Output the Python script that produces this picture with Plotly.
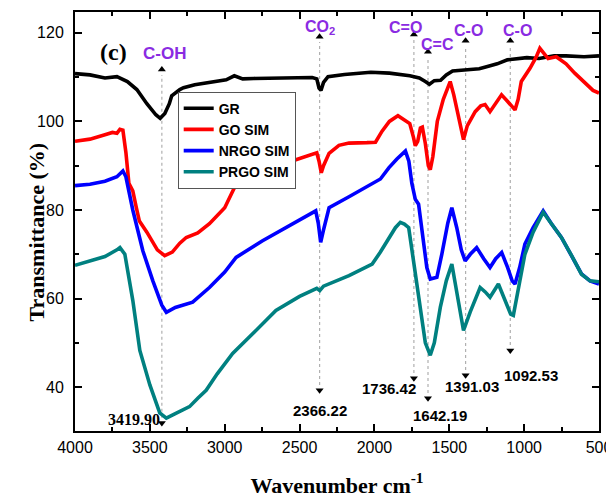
import plotly.graph_objects as go

# ---------------- data ----------------
gr_wn = [4000, 3900, 3800, 3720, 3650, 3587, 3520, 3460, 3431, 3400, 3370, 3354, 3300, 3275, 3200, 3068, 2990, 2936, 2880, 2806, 2600, 2416, 2385, 2370, 2357, 2340, 2310, 2200, 2024, 1900, 1764, 1700, 1660, 1633, 1600, 1558, 1520, 1478, 1400, 1300, 1245, 1180, 1112, 1050, 982, 900, 800, 720, 600, 500]
gr_t = [110.8, 110.5, 109.8, 110.1, 109.0, 107.2, 104.0, 101.5, 100.7, 101.8, 104.0, 105.8, 107.2, 107.6, 108.3, 109.1, 109.4, 110.3, 109.6, 109.7, 109.8, 109.9, 109.6, 107.5, 107.0, 108.8, 110.1, 110.6, 111.1, 110.9, 110.3, 109.8, 109.0, 108.4, 109.2, 109.3, 110.5, 111.4, 111.6, 111.9, 112.4, 113.0, 113.9, 114.2, 114.4, 114.2, 114.8, 114.8, 114.6, 114.8]

go_wn = [4000, 3900, 3800, 3750, 3720, 3700, 3680, 3660, 3640, 3614, 3590, 3570, 3520, 3450, 3401, 3350, 3300, 3257, 3180, 3102, 3000, 2924, 2850, 2749, 2600, 2450, 2385, 2370, 2355, 2340, 2303, 2237, 2170, 2050, 1993, 1949, 1900, 1843, 1804, 1764, 1740, 1727, 1711, 1693, 1680, 1660, 1640, 1627, 1610, 1580, 1540, 1510, 1494, 1470, 1440, 1405, 1380, 1327, 1290, 1261, 1228, 1190, 1151, 1110, 1061, 1040, 1019, 961, 920, 895, 870, 840, 786, 720, 662, 600, 540, 500]
go_t = [95.5, 96.0, 97.0, 97.5, 97.3, 98.2, 98.0, 93.0, 86.0, 84.3, 80.5, 77.5, 75.0, 71.0, 69.7, 70.5, 72.5, 73.8, 74.8, 76.9, 80.5, 85.8, 87.5, 88.8, 90.5, 92.2, 92.9, 91.0, 88.4, 90.0, 92.8, 94.6, 95.1, 95.2, 95.3, 97.8, 100.0, 101.3, 100.5, 99.5, 96.5, 94.5, 95.5, 98.5, 98.7, 95.0, 90.0, 89.1, 92.0, 100.0, 105.0, 108.0, 109.0, 106.0, 101.0, 95.9, 99.0, 102.2, 103.5, 103.8, 102.2, 104.0, 106.0, 104.5, 102.6, 105.0, 109.0, 112.0, 114.5, 116.5, 115.5, 114.2, 114.6, 113.0, 110.9, 109.0, 107.0, 106.4]

nr_wn = [4000, 3900, 3800, 3720, 3680, 3660, 3614, 3580, 3547, 3480, 3420, 3390, 3330, 3214, 3150, 3102, 3000, 2924, 2750, 2570, 2450, 2392, 2375, 2359, 2340, 2303, 2170, 2037, 1960, 1904, 1850, 1793, 1770, 1750, 1727, 1705, 1680, 1650, 1627, 1583, 1550, 1510, 1483, 1450, 1420, 1394, 1360, 1317, 1270, 1228, 1190, 1150, 1110, 1080, 1061, 1030, 995, 940, 873, 820, 751, 680, 617, 560, 500]
nr_t = [85.5, 85.8, 86.5, 87.5, 88.8, 87.5, 80.0, 75.0, 70.8, 64.0, 58.5, 56.9, 58.0, 59.2, 61.0, 62.5, 66.0, 69.3, 73.0, 76.4, 78.7, 79.8, 77.0, 72.7, 75.5, 80.5, 83.0, 85.4, 87.0, 89.5, 91.5, 93.3, 91.0, 86.0, 82.4, 81.3, 75.0, 67.0, 64.4, 64.8, 70.0, 77.0, 80.5, 76.0, 71.0, 68.5, 70.0, 71.5, 69.0, 67.0, 69.0, 70.4, 67.0, 64.0, 63.3, 67.0, 72.3, 76.0, 79.8, 77.0, 73.8, 69.5, 65.6, 64.0, 63.3]

pr_wn = [4000, 3900, 3800, 3720, 3700, 3667, 3640, 3614, 3567, 3500, 3434, 3390, 3330, 3235, 3180, 3124, 3050, 2947, 2800, 2658, 2500, 2385, 2365, 2340, 2170, 2015, 1960, 1904, 1860, 1827, 1800, 1771, 1745, 1727, 1716, 1690, 1660, 1627, 1600, 1560, 1520, 1483, 1450, 1420, 1405, 1360, 1294, 1260, 1228, 1172, 1130, 1090, 1072, 1040, 995, 940, 873, 820, 751, 680, 617, 560, 500]
pr_t = [67.5, 68.5, 69.5, 71.0, 71.5, 70.0, 65.0, 59.6, 48.3, 40.5, 34.2, 33.0, 34.0, 35.6, 37.5, 39.3, 43.0, 47.6, 52.5, 57.3, 60.5, 62.3, 61.8, 62.8, 65.2, 67.8, 70.5, 73.8, 76.0, 77.2, 76.8, 76.0, 70.0, 64.8, 63.4, 57.0, 50.0, 47.2, 50.0, 58.0, 64.0, 67.8, 61.0, 55.0, 52.8, 57.0, 62.5, 61.5, 60.3, 63.3, 60.0, 56.5, 56.2, 62.0, 70.0, 75.0, 79.5, 77.0, 73.8, 69.5, 65.5, 64.0, 63.8]

series_names = ["GR", "GO SIM", "NRGO SIM", "PRGO SIM"]
series_colors = ["#000000", "#ff0000", "#0000ff", "#008080"]

# peak markers (wavenumber, label)
peak_wn = [3419.90, 2366.22, 1736.42, 1642.19, 1391.03, 1092.53]
peak_labels = ["3419.90", "2366.22", "1736.42", "1642.19", "1391.03", "1092.53"]
group_labels = ["C-OH", "CO<sub>2</sub>", "C=O", "C=C", "C-O", "C-O"]

x_ticks = [4000, 3500, 3000, 2500, 2000, 1500, 1000, 500]
y_ticks = [40, 60, 80, 100, 120]

# ---------------- annotation placement (data units) ----------------
top_tri_y = [111.7, 119.1, 119.6, 115.7, 118.2, 118.2]
bot_tri_y = [31.9, 39.3, 42.0, 37.5, 42.7, 48.3]
top_lab = [(3405, 115.4), (2363, 121.2), (1795, 121.3), (1578, 117.4), (1372, 120.6), (1043, 120.6)]
bot_lab = [(3605, 32.6), (2366, 34.8), (1905, 39.6), (1565, 33.7), (1345, 40.2), (953, 42.7)]

PURPLE = "#8a2be2"

fig = go.Figure()
for wn, t, name, col in zip([gr_wn, go_wn, nr_wn, pr_wn], [gr_t, go_t, nr_t, pr_t], series_names, series_colors):
    fig.add_trace(go.Scatter(x=wn, y=t, mode="lines", name=name,
                             line=dict(color=col, width=3.6)))

# dotted guide lines
for w, y0, y1 in zip(peak_wn, top_tri_y, bot_tri_y):
    fig.add_shape(type="line", x0=w, x1=w, y0=y1 + 1.2, y1=y0 - 1.2,
                  line=dict(color="#b0b0b0", width=1.2, dash="dot"), layer="below")

fig.add_trace(go.Scatter(x=peak_wn, y=top_tri_y, mode="markers", showlegend=False,
                         marker=dict(symbol="triangle-up", size=7, color="black")))
fig.add_trace(go.Scatter(x=peak_wn, y=bot_tri_y, mode="markers", showlegend=False,
                         marker=dict(symbol="triangle-down", size=7, color="black")))

for i, ((xx, yy), txt) in enumerate(zip(top_lab, group_labels)):
    fig.add_annotation(x=xx, y=yy, text="<b>%s</b>" % txt, showarrow=False,
                       font=dict(family="Liberation Sans", size=17 if i == 0 else 16, color=PURPLE))

for i, ((xx, yy), txt) in enumerate(zip(bot_lab, peak_labels)):
    fam = "Liberation Serif" if i == 0 else "Liberation Sans"
    fig.add_annotation(x=xx, y=yy, text="<b>%s</b>" % txt, showarrow=False,
                       font=dict(family=fam, size=16 if i == 0 else 15, color="black"))

fig.add_annotation(x=3740, y=115.7, text="<b>(c)</b>", showarrow=False,
                   font=dict(family="Liberation Serif", size=24, color="black"))

# y-axis title placed as annotation (slightly below axis centre, as in the reference)
fig.add_annotation(xref="paper", yref="paper", x=-0.101, y=0.475, textangle=-90,
                   text="<b>Transmittance (%)</b>", showarrow=False,
                   font=dict(family="Liberation Serif", size=22, color="black"))

axis_common = dict(showline=True, linecolor="black", linewidth=2, mirror="allticks",
                   ticks="inside", ticklen=7, tickwidth=1.5, tickcolor="black",
                   showgrid=False, zeroline=False, ticklabeloverflow="allow",
                   tickfont=dict(family="Liberation Sans", size=16, color="black"))

fig.update_layout(
    width=606, height=491,
    margin=dict(l=67, r=13, t=2, b=68),
    plot_bgcolor="white", paper_bgcolor="white",
    xaxis=dict(range=[4000, 500], tickvals=x_ticks, ticklabelstandoff=1,
               minor=dict(dtick=250, ticks="inside", ticklen=4, tickcolor="black"),
               title=dict(text="<b>Wavenumber cm<sup>-1</sup></b>", standoff=22,
                          font=dict(family="Liberation Serif", size=22, color="black")),
               **axis_common),
    yaxis=dict(range=[30.1, 124.7], tickvals=y_ticks, ticklabelstandoff=6,
               minor=dict(dtick=10, ticks="inside", ticklen=4, tickcolor="black"),
               **axis_common),
    legend=dict(x=0.196, y=0.81, xanchor="left", yanchor="top",
                bgcolor="white", bordercolor="#555555", borderwidth=1,
                font=dict(family="Liberation Sans", size=14, color="black", weight="bold"),
                itemwidth=30, tracegroupgap=0),
    showlegend=True,
)

fig.write_html("out.html")
